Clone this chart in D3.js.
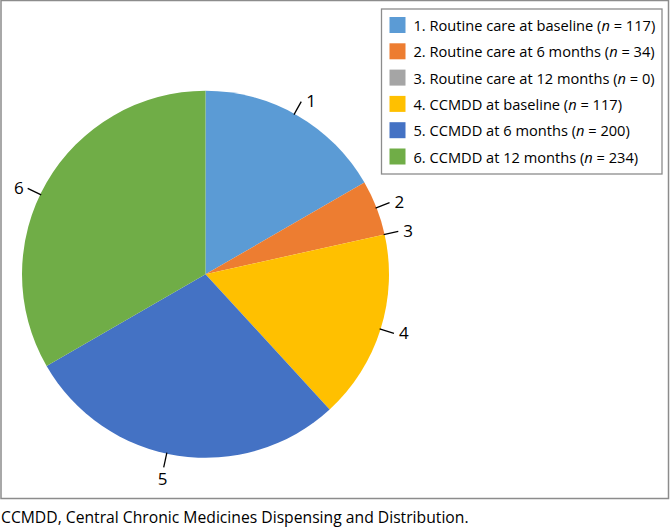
<!DOCTYPE html>
<html>
<head>
<meta charset="utf-8">
<script src="https://cdn.jsdelivr.net/npm/d3@7"></script>
<style>
  body { margin: 0; background: #fff; }
  svg { display: block; font-family: "Open Sans", sans-serif; }
</style>
</head>
<body>
<svg id="chart" width="670" height="528"></svg>
<script>
// data
var labels = ["1", "2", "3", "4", "5", "6"];
var names = ["Routine care at baseline", "Routine care at 6 months", "Routine care at 12 months",
             "CCMDD at baseline", "CCMDD at 6 months", "CCMDD at 12 months"];
var counts = [117, 34, 0, 117, 200, 234];
var colors = ["#5B9BD5", "#ED7D31", "#A5A5A5", "#FFC000", "#4472C4", "#70AD47"];
var caption = "CCMDD, Central Chronic Medicines Dispensing and Distribution.";

// label placement tweaks (degrees), like Excel's best-fit moves
var labelShift = [-1, 0, 0, 0, 3.5, -4.2];

var svg = d3.select("#chart");
var cx = 205.5, cy = 274.3, r = 183.5;

// frame around the chart area
svg.append("rect")
    .attr("x", 1).attr("y", 0.5)
    .attr("width", 667.5).attr("height", 498)
    .attr("fill", "none")
    .attr("stroke", "#8c8c8c")
    .attr("stroke-width", 1.5);

var rows = counts.map(function (c, i) {
    return {label: labels[i], name: names[i], n: c, color: colors[i], shift: labelShift[i]};
});

var pie = d3.pie().sort(null).value(function (d) { return d.n; });
var arcs = pie(rows);
var arc = d3.arc().innerRadius(0).outerRadius(r);

var g = svg.append("g").attr("transform", "translate(" + cx + "," + cy + ")");

g.selectAll("path.slice")
    .data(arcs)
    .enter().append("path")
    .attr("class", "slice")
    .attr("d", arc)
    .attr("fill", function (d) { return d.data.color; });

// leader lines and numbers
function mid(d) { return (d.startAngle + d.endAngle) / 2 + d.data.shift * Math.PI / 180; }
function pt(a, rad) { return [Math.sin(a) * rad, -Math.cos(a) * rad]; }
var lead = 14;

g.selectAll("line.leader")
    .data(arcs)
    .enter().append("line")
    .attr("class", "leader")
    .attr("x1", function (d) { return pt(mid(d), r - 1)[0]; })
    .attr("y1", function (d) { return pt(mid(d), r - 1)[1]; })
    .attr("x2", function (d) { return pt(mid(d), r + lead)[0]; })
    .attr("y2", function (d) { return pt(mid(d), r + lead)[1]; })
    .attr("stroke", "#000")
    .attr("stroke-width", 1.3);

function side(d) {
    var deg = mid(d) * 180 / Math.PI;
    if (deg > 150 && deg < 210) return "bottom";
    return deg < 180 ? "right" : "left";
}

g.selectAll("text.num")
    .data(arcs)
    .enter().append("text")
    .attr("class", "num")
    .attr("x", function (d) {
        var p = pt(mid(d), r + lead), s = side(d);
        return s === "right" ? p[0] + 5 : s === "left" ? p[0] - 4 : p[0] - 1;
    })
    .attr("y", function (d) {
        var p = pt(mid(d), r + lead), s = side(d);
        return s === "bottom" ? p[1] + 11 : p[1] - 1;
    })
    .attr("text-anchor", function (d) {
        var s = side(d);
        return s === "right" ? "start" : s === "left" ? "end" : "middle";
    })
    .attr("dominant-baseline", "central")
    .attr("font-size", 17)
    .attr("fill", "#000")
    .text(function (d) { return d.data.label; });

// legend
var lx = 381.5, ly = 9, lw = 280.5, lh = 165, rowH = 26.3;
svg.append("rect")
    .attr("x", lx).attr("y", ly)
    .attr("width", lw).attr("height", lh)
    .attr("fill", "#fff")
    .attr("stroke", "#8c8c8c")
    .attr("stroke-width", 1.3);

var item = svg.selectAll("g.item")
    .data(rows)
    .enter().append("g")
    .attr("class", "item")
    .attr("transform", function (d, i) { return "translate(" + (lx + 8) + "," + (ly + 16 + i * rowH) + ")"; });

item.append("rect")
    .attr("x", 0).attr("y", -8)
    .attr("width", 16).attr("height", 16)
    .attr("fill", function (d) { return d.color; });

var t = item.append("text")
    .attr("x", 24)
    .attr("y", 0)
    .attr("dominant-baseline", "central")
    .attr("font-size", 14.64)
    .attr("fill", "#000");
t.append("tspan").text(function (d) { return d.label + ". " + d.name + " ("; });
t.append("tspan").attr("font-style", "italic").text("n");
t.append("tspan").text(function (d) { return " = " + d.n + ")"; });

svg.append("text")
    .attr("x", 1)
    .attr("y", 523)
    .attr("font-size", 15.7)
    .attr("fill", "#000")
    .text(caption);
</script>
</body>
</html>
